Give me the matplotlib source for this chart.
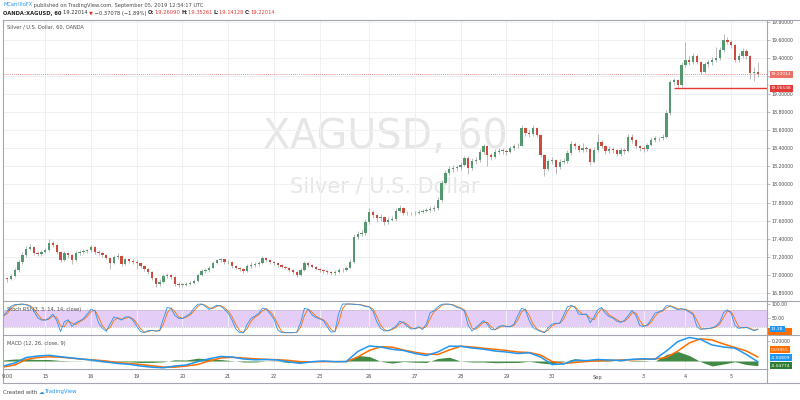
import numpy as np
import pandas as pd
import matplotlib
matplotlib.use('Agg')
import matplotlib.pyplot as plt
from matplotlib.lines import Line2D
from matplotlib.patches import Rectangle
from matplotlib.transforms import blended_transform_factory

# OANDA:XAGUSD, velas de 2 horas (14 ago - 5 sep 2019)
apertura_inicial = 16.97
cierre = [16.96, 16.95, 16.99, 17.05, 17.14, 17.22, 17.29, 17.31, 17.24, 17.23,
          17.25, 17.27, 17.35, 17.33, 17.25, 17.16, 17.24, 17.22, 17.16, 17.24,
          17.25, 17.26, 17.27, 17.31, 17.25, 17.24, 17.22, 17.19, 17.13, 17.20,
          17.21, 17.12, 17.17, 17.15, 17.14, 17.13, 17.10, 17.06, 17.03, 16.96,
          16.90, 16.92, 16.99, 17.00, 16.98, 16.90, 16.89, 16.89, 16.90, 16.91,
          16.93, 17.00, 17.04, 17.05, 17.08, 17.13, 17.16, 17.17, 17.14, 17.14,
          17.10, 17.08, 17.06, 17.04, 17.10, 17.11, 17.12, 17.13, 17.19, 17.16,
          17.14, 17.13, 17.11, 17.09, 17.08, 17.05, 17.03, 17.00, 17.05, 17.13,
          17.11, 17.09, 17.06, 17.05, 17.04, 17.03, 17.02, 17.03, 17.05, 17.05,
          17.08, 17.14, 17.42, 17.45, 17.46, 17.58, 17.70, 17.66, 17.63, 17.64,
          17.58, 17.61, 17.62, 17.71, 17.74, 17.68, 17.68, 17.68, 17.68, 17.70,
          17.71, 17.72, 17.73, 17.74, 17.83, 18.02, 18.13, 18.17, 18.18, 18.19,
          18.22, 18.29, 18.18, 18.26, 18.27, 18.36, 18.42, 18.33, 18.30, 18.36,
          18.37, 18.37, 18.36, 18.40, 18.42, 18.43, 18.63, 18.57, 18.56, 18.63,
          18.55, 18.33, 18.17, 18.26, 18.27, 18.19, 18.25, 18.26, 18.35, 18.45,
          18.42, 18.38, 18.40, 18.39, 18.25, 18.38, 18.47, 18.43, 18.37, 18.39,
          18.38, 18.34, 18.38, 18.37, 18.53, 18.49, 18.43, 18.40, 18.39, 18.44,
          18.49, 18.51, 18.51, 18.53, 18.79, 19.13, 19.16, 19.10, 19.32, 19.38,
          19.36, 19.42, 19.36, 19.25, 19.33, 19.35, 19.38, 19.40, 19.49, 19.60,
          19.58, 19.54, 19.38, 19.42, 19.48, 19.42, 19.23, 19.25, 19.22014]
maximo = [16.99, 16.98, 17.01, 17.08, 17.16, 17.25, 17.32, 17.34, 17.32, 17.26,
          17.27, 17.30, 17.40, 17.37, 17.34, 17.26, 17.26, 17.25, 17.23, 17.26,
          17.27, 17.28, 17.29, 17.33, 17.32, 17.27, 17.25, 17.23, 17.20, 17.22,
          17.24, 17.22, 17.19, 17.18, 17.17, 17.16, 17.14, 17.11, 17.07, 17.04,
          16.97, 16.95, 17.01, 17.02, 17.01, 16.99, 16.92, 16.91, 16.92, 16.93,
          16.95, 17.02, 17.06, 17.07, 17.10, 17.15, 17.18, 17.19, 17.18, 17.16,
          17.15, 17.11, 17.09, 17.07, 17.12, 17.14, 17.14, 17.15, 17.21, 17.20,
          17.17, 17.15, 17.14, 17.12, 17.10, 17.09, 17.06, 17.04, 17.07, 17.15,
          17.14, 17.12, 17.10, 17.07, 17.06, 17.05, 17.04, 17.05, 17.07, 17.08,
          17.10, 17.17, 17.45, 17.49, 17.50, 17.62, 17.74, 17.72, 17.67, 17.67,
          17.65, 17.64, 17.65, 17.74, 17.77, 17.75, 17.71, 17.70, 17.71, 17.72,
          17.73, 17.74, 17.76, 17.77, 17.86, 18.05, 18.16, 18.20, 18.21, 18.22,
          18.25, 18.32, 18.31, 18.29, 18.30, 18.39, 18.45, 18.44, 18.35, 18.39,
          18.40, 18.40, 18.39, 18.43, 18.45, 18.46, 18.66, 18.64, 18.60, 18.66,
          18.64, 18.56, 18.34, 18.28, 18.30, 18.28, 18.28, 18.29, 18.38, 18.48,
          18.47, 18.45, 18.46, 18.43, 18.40, 18.41, 18.56, 18.49, 18.44, 18.42,
          18.41, 18.39, 18.40, 18.40, 18.56, 18.56, 18.50, 18.44, 18.42, 18.46,
          18.51, 18.54, 18.53, 18.56, 18.82, 19.16, 19.18, 19.17, 19.35, 19.58,
          19.42, 19.46, 19.44, 19.37, 19.36, 19.38, 19.41, 19.52, 19.52, 19.66,
          19.63, 19.60, 19.55, 19.45, 19.51, 19.50, 19.43, 19.30, 19.35]
minimo = [16.93, 16.92, 16.94, 16.98, 17.03, 17.12, 17.20, 17.27, 17.22, 17.21,
          17.21, 17.24, 17.26, 17.31, 17.23, 17.14, 17.15, 17.19, 17.12, 17.15,
          17.22, 17.23, 17.24, 17.25, 17.23, 17.22, 17.20, 17.17, 17.06, 17.12,
          17.18, 17.10, 17.11, 17.13, 17.12, 17.08, 17.08, 17.04, 17.01, 16.94,
          16.86, 16.88, 16.91, 16.97, 16.95, 16.88, 16.87, 16.87, 16.88, 16.89,
          16.90, 16.92, 16.99, 17.02, 17.03, 17.07, 17.12, 17.14, 17.12, 17.12,
          17.08, 17.06, 17.04, 17.02, 17.03, 17.08, 17.09, 17.10, 17.12, 17.14,
          17.12, 17.11, 17.09, 17.07, 17.06, 17.03, 17.01, 16.98, 16.99, 17.04,
          17.09, 17.07, 17.05, 17.03, 17.02, 17.01, 17.00, 17.00, 17.02, 17.03,
          17.04, 17.07, 17.13, 17.40, 17.43, 17.44, 17.56, 17.63, 17.58, 17.60,
          17.55, 17.56, 17.59, 17.60, 17.69, 17.66, 17.66, 17.66, 17.66, 17.67,
          17.68, 17.69, 17.70, 17.71, 17.72, 17.81, 18.00, 18.11, 18.14, 18.15,
          18.16, 18.20, 18.12, 18.16, 18.23, 18.25, 18.34, 18.20, 18.27, 18.29,
          18.34, 18.34, 18.33, 18.35, 18.38, 18.40, 18.42, 18.54, 18.53, 18.54,
          18.52, 18.30, 18.09, 18.15, 18.23, 18.12, 18.17, 18.23, 18.24, 18.33,
          18.39, 18.36, 18.36, 18.36, 18.22, 18.24, 18.36, 18.40, 18.34, 18.35,
          18.35, 18.31, 18.32, 18.34, 18.36, 18.46, 18.40, 18.37, 18.36, 18.37,
          18.42, 18.47, 18.48, 18.49, 18.51, 18.77, 19.10, 19.07, 19.08, 19.30,
          19.32, 19.33, 19.33, 19.22, 19.23, 19.30, 19.32, 19.36, 19.38, 19.47,
          19.55, 19.51, 19.35, 19.36, 19.40, 19.39, 19.17, 19.14, 19.19]

# Stoch RSI %K en cada vela
stoch_k = [58, 75, 92, 98, 99, 100, 97, 92, 75, 52,
           44, 44, 51, 65, 42, 4, 38, 45, 22, 35,
           41, 49, 65, 82, 76, 33, 15, 5, 30, 55,
           50, 44, 55, 55, 43, 23, 4, 0, 8, 8,
           5, 8, 50, 88, 85, 60, 50, 50, 58, 66,
           85, 99, 100, 92, 81, 88, 96, 93, 82, 68,
           44, 13, 0, 0, 30, 50, 58, 67, 86, 82,
           66, 48, 10, 0, 0, 0, 0, 2, 35, 85,
           81, 62, 53, 48, 42, 20, 2, 4, 67, 100,
           100, 100, 99, 98, 96, 91, 90, 75, 38, 15,
           6, 7, 14, 22, 40, 35, 22, 13, 14, 21,
           11, 30, 70, 76, 90, 99, 100, 99, 96, 88,
           85, 75, 25, 6, 18, 30, 42, 30, 11, 10,
           22, 25, 21, 21, 30, 60, 85, 79, 42, 18,
           10, 4, 0, 18, 30, 33, 33, 60, 90, 95,
           88, 65, 63, 65, 35, 55, 80, 88, 67, 56,
           51, 40, 36, 43, 60, 78, 60, 25, 22, 27,
           46, 68, 73, 78, 94, 93, 86, 80, 84, 80,
           72, 63, 22, 11, 14, 15, 17, 23, 37, 70,
           80, 67, 25, 15, 18, 19, 12, 7, 13.38]

# MACD (12, 26, close, 9), una lectura cada 3 velas
paso_macd = 3
macd_linea = [-0.05, -0.02, 0.035, 0.05, 0.057, 0.043, 0.03, 0.018, 0.006, -0.01,
              -0.025, -0.033, -0.05, -0.062, -0.068, -0.05, -0.04, -0.007, 0.022, 0.045,
              0.04, 0.02, 0.012, 0.015, 0.01, -0.01, -0.023, -0.007, 0.0, -0.007,
              -0.005, 0.095, 0.15, 0.14, 0.117, 0.105, 0.075, 0.055, 0.09, 0.148,
              0.147, 0.13, 0.118, 0.1, 0.09, 0.075, 0.082, 0.04, -0.035, -0.03,
              0.008, 0.004, 0.015, 0.01, 0.005, 0.017, 0.022, 0.018, 0.1, 0.195,
              0.235, 0.215, 0.16, 0.14, 0.128, 0.065, -0.00809]
macd_senal = [-0.06, -0.04, 0.015, 0.035, 0.042, 0.038, 0.028, 0.017, 0.01, 0.0,
              -0.017, -0.025, -0.035, -0.048, -0.06, -0.062, -0.05, -0.035, 0.0, 0.03,
              0.037, 0.03, 0.022, 0.016, 0.013, 0.005, -0.007, -0.008, -0.006, -0.006,
              -0.007, 0.04, 0.105, 0.143, 0.138, 0.11, 0.087, 0.07, 0.065, 0.11,
              0.148, 0.14, 0.128, 0.117, 0.105, 0.09, 0.085, 0.06, -0.005, -0.025,
              -0.015, -0.005, 0.002, 0.005, 0.01, 0.012, 0.017, 0.02, 0.035, 0.1,
              0.18, 0.222, 0.21, 0.17, 0.135, 0.1, 0.03965]

# eje de tiempo: vela donde empieza cada dia
dias = ['15', '16', '19', '20', '21', '22', '23', '26', '27', '28', '29', '30', 'Sep', '3', '4', '5']
dias_idx = [11, 23, 35, 47, 59, 71, 83, 96, 108, 120, 132, 144, 156, 168, 179, 191]

# linea horizontal dibujada (soporte)
nivel = 19.06538
nivel_desde = 176

verde = '#53986f'
rojo = '#cc4a3e'
gris_borde = '#a3a6af'
gris_txt = '#4a4a4a'
azul = '#2196f3'
naranja = '#ff6d00'
verde_hist = '#2e7d32'

plt.rcParams['font.family'] = ['DejaVu Sans']

fig = plt.figure(figsize=(8, 4), dpi=100)
fig.patch.set_facecolor('white')


def caja(x0, y0, x1, y1):
    return [x0 / 800, 1 - y1 / 400, (x1 - x0) / 800, (y1 - y0) / 400]


def linea(x0, y0, x1, y1, color=gris_borde, lw=0.8):
    fig.add_artist(Line2D([x0 / 800, x1 / 800], [1 - y0 / 400, 1 - y1 / 400],
                          transform=fig.transFigure, color=color, lw=lw))


def texto(x, y, s, **kw):
    return fig.text(x / 800, 1 - y / 400, s, **kw)


ax = fig.add_axes(caja(3, 20, 767, 301))
ax_st = fig.add_axes(caja(3, 301, 767, 335), sharex=ax)
ax_m = fig.add_axes(caja(3, 335, 767, 369), sharex=ax)

for a in (ax, ax_st, ax_m):
    for s in a.spines.values():
        s.set_visible(False)
    a.set_xticks(dias_idx)
    a.tick_params(axis='x', length=0, labelbottom=False)
    a.grid(axis='x', color='#eef0f4', lw=0.7)
    a.set_axisbelow(True)
    a.yaxis.tick_right()
    a.tick_params(axis='y', length=2, width=0.5, color=gris_borde, pad=1.5,
                  labelsize=3.3, labelcolor=gris_txt)
ax.set_xlim(-0.1, 200.4)

# ---- precio ----
n = len(cierre)
x = np.arange(n)
c = np.array(cierre)
o = np.r_[apertura_inicial, c[:-1]]
col = np.where(c >= o, verde, rojo)
ax.vlines(x, minimo, maximo, color='#a0a0a0', lw=0.5, zorder=2)
ax.bar(x, np.maximum(np.abs(c - o), 0.006), bottom=np.minimum(c, o), width=0.62,
       color=col, lw=0, zorder=3)

ax.set_ylim(16.71, 19.82)
ticks_p = np.round(np.arange(16.8, 19.81, 0.2), 1)
# la etiqueta 19.2 queda tapada por la del ultimo precio
ax.set_yticks(ticks_p, ['' if abs(t - 19.2) < 0.01 else f'{t:.5f}' for t in ticks_p])
ax.grid(axis='y', color='#eef0f4', lw=0.7)

ax.axhline(c[-1], color='#e57373', lw=0.6, ls=(0, (1, 1.5)), zorder=1)
ax.hlines(nivel, nivel_desde, 200.4, color='#e53935', lw=1.0, zorder=4)

ax.text(0.5, 0.584, 'XAGUSD, 60', transform=ax.transAxes, ha='center', va='center',
        fontsize=28.5, color='#e6e6e6', zorder=0)
ax.text(0.5, 0.406, 'Silver / U.S. Dollar', transform=ax.transAxes, ha='center', va='center',
        fontsize=15, color='#e6e6e6', zorder=0)
ax.text(4 / 764, 1 - 7 / 281, 'Silver / U.S. Dollar, 60, OANDA', transform=ax.transAxes,
        ha='left', va='center', fontsize=3.6, color=gris_txt)


def etiqueta(a, valor, s, fondo, tam=3.2):
    tr = blended_transform_factory(a.transAxes, a.transData)
    a.text(1 + 4 / 764, valor, s, transform=tr, ha='left', va='center', fontsize=tam,
           color='white', clip_on=False, zorder=10,
           bbox=dict(boxstyle='square,pad=0.3', fc=fondo, ec='none'))


etiqueta(ax, c[-1], f'{c[-1]:.5f}', '#ec7063')
etiqueta(ax, nivel, f'{nivel:.5f}', '#e53935')

# ---- Stoch RSI ----
k = pd.Series(stoch_k, dtype=float)
d = k.rolling(2, min_periods=1).mean()
ax_st.axhspan(20, 80, color='#e4cdf6', lw=0, zorder=0)
for v in (20, 80):
    ax_st.axhline(v, color='#9e9e9e', lw=0.5, ls=(0, (1, 1.5)), zorder=1)
ax_st.plot(x, d, color=naranja, lw=0.6, zorder=2)
ax_st.plot(x, k, color=azul, lw=0.6, zorder=3)
ax_st.set_ylim(-8, 110.5)
ax_st.set_yticks([50, 100], ['50.00', '100.00'])
ax_st.text(4 / 764, 1 - 8 / 34, 'Stoch RSI (3, 3, 14, 14, close)', transform=ax_st.transAxes,
           ha='left', va='center', fontsize=3.6, color=gris_txt)
# la etiqueta de %D asoma por debajo de la de %K
fig.add_artist(Rectangle((768 / 800, 1 - 334.5 / 400), 24 / 800, 7 / 400,
                         transform=fig.transFigure, fc=naranja, ec='none', zorder=-1))
etiqueta(ax_st, k.iloc[-1], f'{k.iloc[-1]:.2f}', azul)

# ---- MACD ----
xm = np.arange(0, n, paso_macd)
ml = np.array(macd_linea)
ms = np.array(macd_senal)
hist = ml - ms
ax_m.fill_between(xm, 0, hist, color=verde_hist, lw=0, alpha=0.9, zorder=1)
ax_m.plot(xm, ml, color=azul, lw=1.1, zorder=3)
ax_m.plot(xm, ms, color=naranja, lw=1.1, zorder=2)
ax_m.set_ylim(-0.08, 0.26)
ax_m.set_yticks([0.2], ['0.20000'])
ax_m.text(4 / 764, 1 - 8 / 34, 'MACD (12, 26, close, 9)', transform=ax_m.transAxes,
          ha='left', va='center', fontsize=3.6, color=gris_txt)
alto_tag = 0.08
y_h = hist[-1]
y_l = max(ml[-1], y_h + alto_tag)
y_s = max(ms[-1], y_l + alto_tag)
etiqueta(ax_m, y_s, f'{ms[-1]:.5f}', naranja)
etiqueta(ax_m, y_l, f'{ml[-1]:.5f}', azul)
etiqueta(ax_m, y_h, f'{hist[-1]:.5f}', verde_hist)

# eje de fechas
tr = blended_transform_factory(ax_m.transData, fig.transFigure)
for s, i in zip(dias, dias_idx):
    ax_m.text(i, 1 - 377 / 400, s, transform=tr, ha='center', va='center',
              fontsize=3.6, color=gris_txt, clip_on=False)
texto(2, 377, '9:00', ha='left', va='center', fontsize=3.6, color=gris_txt)

# marcos
for yy in (20, 301, 335, 383):
    linea(3, yy, 800, yy)
linea(3, 369, 767, 369)
linea(3, 20, 3, 383)
linea(767, 20, 767, 383)

# cabecera
r = fig.canvas.get_renderer()


def trozos(x0, y0, partes, tam):
    for s, color, peso in partes:
        t = texto(x0, y0, s, color=color, fontsize=tam, fontweight=peso, va='center', ha='left')
        x0 += t.get_window_extent(renderer=r).width


trozos(3, 5, [('MCarrilloFX', azul, 'normal'),
              (' published on TradingView.com, September 05, 2019 12:54:17 UTC', gris_txt, 'normal')], 3.7)
trozos(3, 13, [('OANDA:XAGUSD, 60 ', '#222222', 'bold'),
               ('19.22014 ', '#333333', 'normal'),
               ('\u25bc', '#e53935', 'normal'),
               (' \u22120.37078 (\u22121.89%) ', '#333333', 'normal'),
               ('O:', '#222222', 'bold'), ('19.26090 ', '#e53935', 'normal'),
               ('H:', '#222222', 'bold'), ('19.35261 ', '#e53935', 'normal'),
               ('L:', '#222222', 'bold'), ('19.14128 ', '#e53935', 'normal'),
               ('C:', '#222222', 'bold'), ('19.22014', '#e53935', 'normal')], 3.7)

trozos(3, 392, [('Created with ', gris_txt, 'normal'), ('\u2601', azul, 'normal'),
                ('TradingView', azul, 'normal')], 3.9)

fig.savefig('out.png', dpi=100, facecolor='white')
